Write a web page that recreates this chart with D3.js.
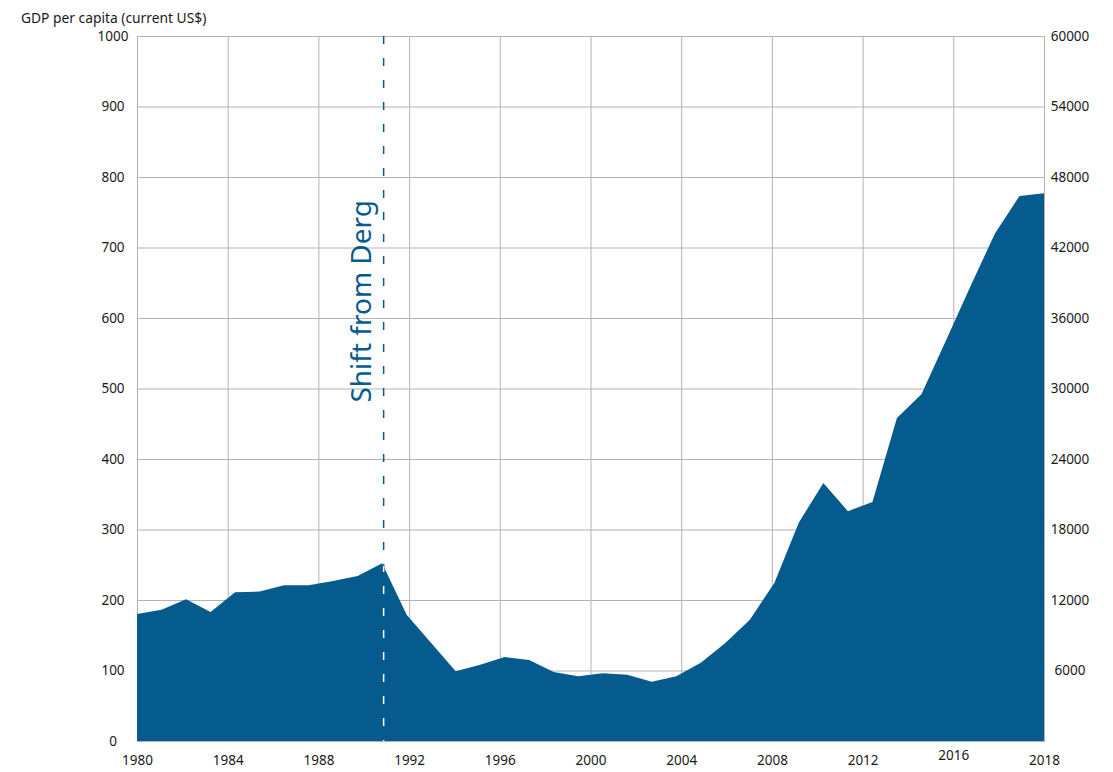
<!DOCTYPE html>
<html>
<head>
<meta charset="utf-8">
<script src="https://cdn.jsdelivr.net/npm/d3@7"></script>
<style>
body{margin:0;background:#fff;font-family:"Noto Sans",sans-serif;}
.axis text{font-family:"Noto Sans",sans-serif;font-size:13.5px;fill:#1a1a1a;}
.axis path{display:none;}
.grid line{stroke:#b3b3b3;stroke-width:1;}
.grid path{display:none;}
</style>
</head>
<body>
<div id="chart"></div>
<script>
// GDP per capita (current US$), 1981-2018
let years = d3.range(1981, 2019);
let gdp = [180, 186, 201, 183, 211, 212, 221, 221, 227, 234,
           252, 179, 139, 99, 108, 119, 115, 98, 92, 96,
           94, 84, 92, 111, 139, 172, 224, 310, 366, 326,
           339, 458, 492, 568, 645, 720, 773, 777];

let xLabels = ["1980","1984","1988","1992","1996","2000","2004","2008","2012","2016","2018"];
let leftTicks = [0,100,200,300,400,500,600,700,800,900,1000];
let rightTicks = [6000,12000,18000,24000,30000,36000,42000,48000,54000,60000];
let shiftYear = 1991;

let width = 1113, height = 772;
let L = 137, R = 1044, T = 36, B = 741;
let blue = "#065b8e";

let svg = d3.select("#chart").append("svg").attr("width", width).attr("height", height);

let x = d3.scaleLinear().domain([1981, 2018]).range([L, R]);
let xAxisScale = d3.scalePoint().domain(xLabels).range([L, R]);
let y = d3.scaleLinear().domain([0, 1000]).range([B, T]);
let y2 = d3.scaleLinear().domain([0, 60000]).range([B, T]);

// grid
svg.append("g").attr("class","grid").attr("transform","translate("+L+",0)")
  .call(d3.axisLeft(y).tickValues(leftTicks).tickSize(-(R-L)).tickFormat(""));
svg.append("g").attr("class","grid").attr("transform","translate(0,"+B+")")
  .call(d3.axisBottom(xAxisScale).tickSize(-(B-T)).tickFormat(""));
svg.append("rect").attr("x",L+0.5).attr("y",T+0.5).attr("width",R-L).attr("height",B-T)
  .attr("fill","none").attr("stroke","#b3b3b3");

// dashed marker (blue above the area)
svg.append("line").attr("x1",x(shiftYear)+1.5).attr("x2",x(shiftYear)+1.5)
  .attr("y1",T).attr("y2",B).attr("stroke",blue).attr("stroke-width",1.5)
  .attr("stroke-dasharray","8,14");

// area
let area = d3.area().x((d,i) => x(years[i])).y0(B).y1(d => y(d));
svg.append("clipPath").attr("id","areaClip").append("path").datum(gdp).attr("d", area);
svg.append("path").datum(gdp).attr("d", area).attr("fill", blue);

// dashed marker (white inside the area)
svg.append("line").attr("x1",x(shiftYear)+1.5).attr("x2",x(shiftYear)+1.5)
  .attr("y1",T).attr("y2",B).attr("stroke","#fff").attr("stroke-width",1.5)
  .attr("stroke-dasharray","8,14")
  .attr("clip-path","url(#areaClip)");

svg.append("text").text("Shift from Derg")
  .attr("transform","translate("+(x(shiftYear)-11)+","+y(480)+") rotate(-90)")
  .attr("font-family","Noto Sans").attr("font-size",28).attr("fill",blue);

// axes
let yl = svg.append("g").attr("class","axis").attr("transform","translate("+L+",0)")
  .call(d3.axisLeft(y).tickValues(leftTicks).tickSize(0).tickFormat(d3.format("d")));
yl.selectAll("text").attr("text-anchor","middle").attr("x",-24);

let yr = svg.append("g").attr("class","axis").attr("transform","translate("+R+",0)")
  .call(d3.axisRight(y2).tickValues(rightTicks).tickSize(0).tickFormat(d3.format("d")));
yr.selectAll("text").attr("text-anchor","middle").attr("x",26);

let xa = svg.append("g").attr("class","axis").attr("transform","translate(0,"+B+")")
  .call(d3.axisBottom(xAxisScale).tickSize(0).tickPadding(14));
xa.selectAll("text").filter(d => d === "2016").attr("y", 9);

svg.append("text").text("GDP per capita (current US$)")
  .attr("x",21).attr("y",23).attr("font-size",13.8).attr("fill","#1a1a1a");
</script>
</body>
</html>
